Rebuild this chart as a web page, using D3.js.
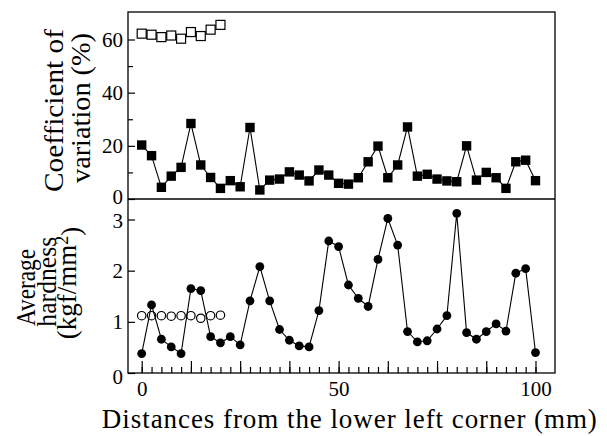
<!DOCTYPE html>
<html>
<head>
<meta charset="utf-8">
<script src="https://cdn.jsdelivr.net/npm/d3@7"></script>
<style>
  html, body { margin: 0; padding: 0; background: #fff; }
  svg { display: block; font-family: "Liberation Serif", "Times New Roman", serif; }
</style>
</head>
<body>
<svg id="chart" width="607" height="436"></svg>
<script>
// ---------- data ----------
const distances = d3.range(0, 100.01, 2.5); // 41 measurement positions (mm)
const cvFilled = [20.3, 16.3, 4.4, 8.6, 11.9, 28.4, 12.8, 8.1, 4.0, 6.9, 4.6, 26.9, 3.4, 7.1, 7.5, 10.2, 9.0, 6.8, 10.9, 9.0, 5.9, 5.6, 8.0, 14.0,
                  19.9, 8.0, 12.8, 27.1, 8.6, 9.3, 7.5, 6.8, 6.5, 20.0, 7.1, 10.0, 8.0, 4.0, 14.0, 14.6, 6.9];
const cvOpen = [62.2, 61.8, 60.9, 61.5, 60.3, 62.8, 61.3, 63.7, 65.5];
const hardFilled = [0.38, 1.33, 0.66, 0.51, 0.38, 1.65, 1.61, 0.71, 0.59, 0.71, 0.55, 1.41, 2.08, 1.41, 0.85, 0.64, 0.53, 0.51, 1.22, 2.58, 2.47, 1.72, 1.46, 1.30,
                    2.22, 3.02, 2.50, 0.81, 0.61, 0.63, 0.86, 1.12, 3.12, 0.79, 0.66, 0.81, 0.96, 0.82, 1.95, 2.04, 0.40];
const hardOpen = [1.12, 1.12, 1.12, 1.11, 1.12, 1.12, 1.07, 1.12, 1.13];
const openDistances = d3.range(0, 20.01, 2.5);
const cvMajorTicks = [0, 20, 40, 60];
const cvMinorTicks = [10, 30, 50];
const hardTicks = [0, 1, 2, 3];
const xMajorTicks = d3.range(0, 100.01, 12.5);
const xMinorTicks = d3.range(0, 100.01, 2.5);
const xLabelTicks = [0, 50, 100];

// ---------- layout ----------
const svg = d3.select("#chart");
const frame = {left: 128, right: 555, top: 12, mid: 199, bottom: 373};

const x = d3.scaleLinear().domain([0, 100]).range([141.7, 535.5]);
const yTop = d3.scaleLinear().domain([0, 60]).range([199, 39.5]);
const yBot = d3.scaleLinear().domain([0, 3]).range([373, 219.5]);

const tickFont = 21;

// ---------- open markers (drawn first) ----------
const gTop = svg.append("g");
gTop.selectAll("rect.open").data(cvOpen).join("rect")
  .attr("x", (d, i) => x(openDistances[i]) - 4.5)
  .attr("y", d => yTop(d) - 4.5)
  .attr("width", 9).attr("height", 9)
  .attr("fill", "#fff").attr("stroke", "#000").attr("stroke-width", 1.2);

const gBot = svg.append("g");
gBot.selectAll("circle.open").data(hardOpen).join("circle")
  .attr("cx", (d, i) => x(openDistances[i]))
  .attr("cy", d => yBot(d))
  .attr("r", 4.2)
  .attr("fill", "#fff").attr("stroke", "#000").attr("stroke-width", 1.2);

// ---------- filled series ----------
const lineTop = d3.line().x((d, i) => x(distances[i])).y(d => yTop(d));
gTop.append("path").datum(cvFilled).attr("d", lineTop)
  .attr("fill", "none").attr("stroke", "#000").attr("stroke-width", 1.1);
gTop.selectAll("rect.fill").data(cvFilled).join("rect")
  .attr("x", (d, i) => x(distances[i]) - 4.7)
  .attr("y", d => yTop(d) - 4.7)
  .attr("width", 9.4).attr("height", 9.4)
  .attr("fill", "#000");

const lineBot = d3.line().x((d, i) => x(distances[i])).y(d => yBot(d));
gBot.append("path").datum(hardFilled).attr("d", lineBot)
  .attr("fill", "none").attr("stroke", "#000").attr("stroke-width", 1.1);
gBot.selectAll("circle.fill").data(hardFilled).join("circle")
  .attr("cx", (d, i) => x(distances[i]))
  .attr("cy", d => yBot(d))
  .attr("r", 4.4)
  .attr("fill", "#000");

// ---------- frame ----------
svg.append("rect")
  .attr("x", frame.left).attr("y", frame.top)
  .attr("width", frame.right - frame.left).attr("height", frame.bottom - frame.top)
  .attr("fill", "none").attr("stroke", "#000").attr("stroke-width", 1.3);
svg.append("line")
  .attr("x1", frame.left).attr("x2", frame.right)
  .attr("y1", frame.mid).attr("y2", frame.mid)
  .attr("stroke", "#000").attr("stroke-width", 1.3);

// ---------- axes ----------
function styleAxis(g) {
  g.select(".domain").remove();
  g.selectAll(".tick line").attr("stroke", "#000").attr("stroke-width", 1.2);
  g.selectAll(".tick text").attr("fill", "#000")
    .style("font-family", "'Liberation Serif', 'Times New Roman', serif").style("font-size", tickFont + "px");
}

// top panel left axis
svg.append("g").attr("transform", `translate(${frame.left},0)`)
  .call(d3.axisLeft(yTop).tickValues(cvMajorTicks).tickSize(-7).tickPadding(5).tickFormat(d3.format("d")))
  .call(styleAxis)
  .call(g => g.selectAll(".tick text").attr("dy", d => d === 0 ? "0.22em" : "0.32em"));
svg.append("g").attr("transform", `translate(${frame.left},0)`)
  .call(d3.axisLeft(yTop).tickValues(cvMinorTicks).tickSize(-5).tickFormat(""))
  .call(styleAxis);

// bottom panel left axis
svg.append("g").attr("transform", `translate(${frame.left},0)`)
  .call(d3.axisLeft(yBot).tickValues(hardTicks).tickSize(-7).tickPadding(5).tickFormat(d3.format("d")))
  .call(styleAxis)
  .call(g => g.selectAll(".tick text").attr("dy", d => d === 0 ? "0.52em" : (d === 3 ? "0.4em" : "0.32em")));

// bottom x axis
svg.append("g").attr("transform", `translate(0,${frame.bottom})`)
  .call(d3.axisBottom(x).tickValues(xMinorTicks).tickSize(-6).tickFormat(""))
  .call(styleAxis);
svg.append("g").attr("transform", `translate(0,${frame.bottom})`)
  .call(d3.axisBottom(x).tickValues(xMajorTicks).tickSize(-12)
        .tickFormat(d => xLabelTicks.includes(d) ? d3.format("d")(d) : "").tickPadding(8))
  .call(styleAxis);

// ---------- axis titles ----------
const titleFont = 27;
function vLabel(text, bx, cy, len) {
  const t = svg.append("text")
    .attr("transform", `translate(${bx},${cy}) rotate(-90)`)
    .attr("text-anchor", "middle")
    .style("font-size", titleFont + "px")
    .attr("fill", "#000")
    .text(text);
  if (len) t.attr("textLength", len).attr("lengthAdjust", "spacingAndGlyphs");
  return t;
}
vLabel("Coefficient of", 63, 110.5, 163);
vLabel("variation (%)", 90, 108, 150);
vLabel("Average", 35, 287.5, 77);
vLabel("hardness", 56, 281.7, 90);

const unit = svg.append("text")
  .attr("transform", `translate(76,283) rotate(-90)`)
  .attr("text-anchor", "middle")
  .style("font-size", titleFont + "px")
  .attr("fill", "#000");
unit.append("tspan").text("(kgf/mm");
unit.append("tspan").text("2").attr("dy", "-0.45em").style("font-size", "18px");
unit.append("tspan").text(")").attr("dy", "0.45em");

svg.append("text")
  .attr("x", (101.7 + 597) / 2).attr("y", 428)
  .attr("text-anchor", "middle")
  .style("font-size", titleFont + "px")
  .attr("fill", "#000")
  .attr("textLength", 495).attr("lengthAdjust", "spacing")
  .text("Distances from the lower left corner (mm)");
</script>
</body>
</html>
